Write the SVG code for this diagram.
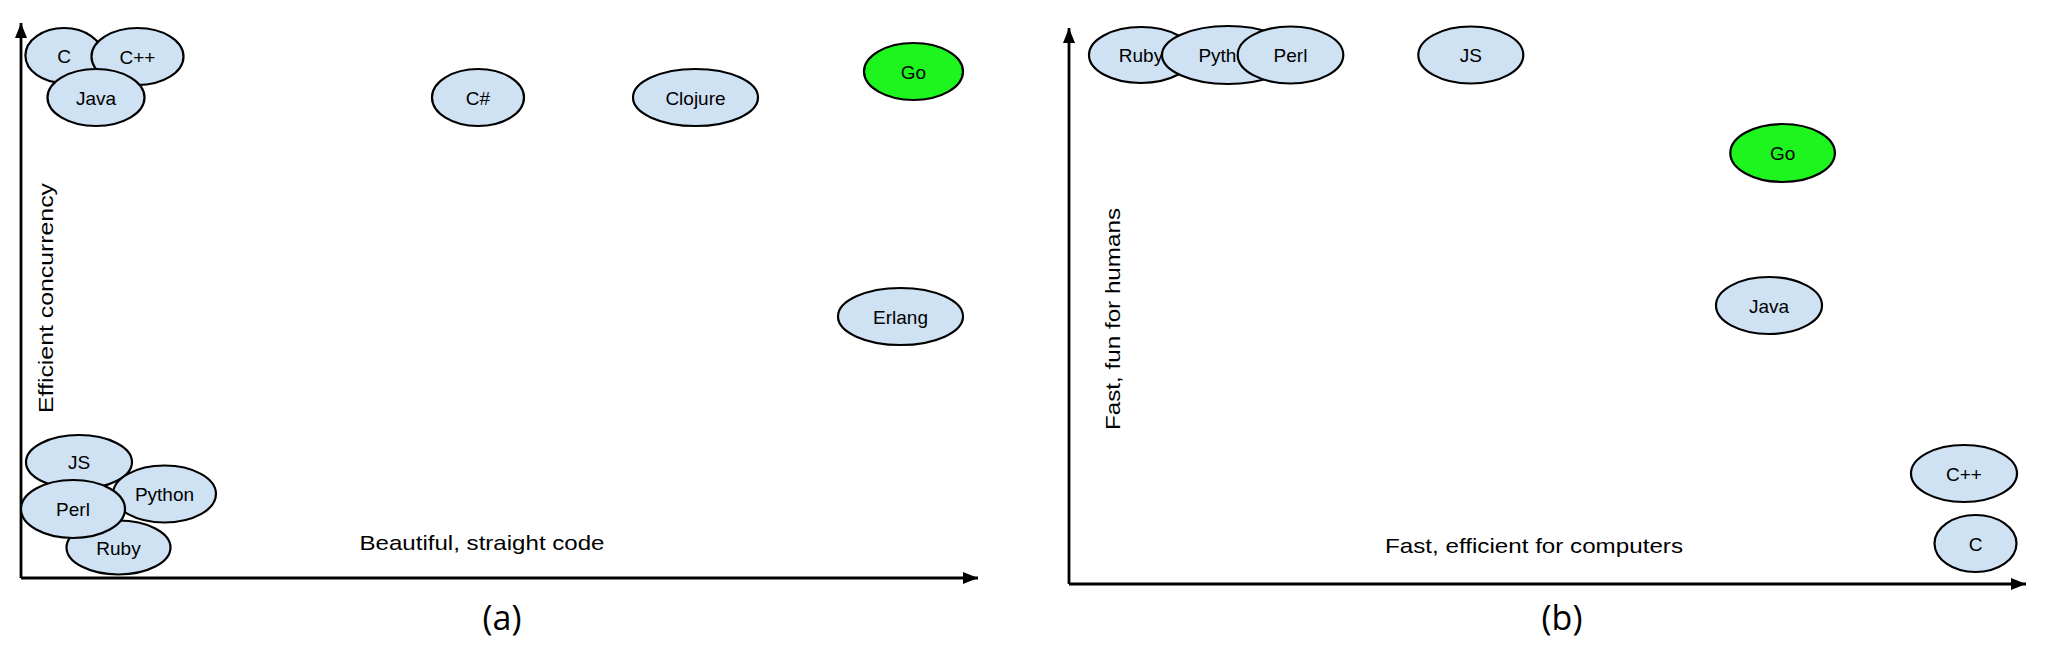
<svg xmlns="http://www.w3.org/2000/svg" width="2056" height="661" viewBox="0 0 2056 661">
<defs>
<style>
.n{fill:#cfe2f3;stroke:#000;stroke-width:2.2}
.g{fill:#1ef41e;stroke:#000;stroke-width:2.2}
.t{font-family:"Liberation Sans",Arial,sans-serif;font-size:19px;fill:#000;text-anchor:middle}
.ax{font-family:"Liberation Sans",Arial,sans-serif;font-size:21px;fill:#000}
.cap{font-family:"Open Sans","DejaVu Sans",sans-serif;font-size:34px;fill:#000;text-anchor:middle}
.axis{fill:none;stroke:#000;stroke-width:2.8}
</style>
<marker id="ah" markerWidth="16" markerHeight="12" refX="15" refY="6" orient="auto" markerUnits="userSpaceOnUse">
<path d="M0,0 L15,6 L0,12 Z" fill="#000"/>
</marker>
</defs>
<rect width="2056" height="661" fill="#fff"/>
<g id="connectors">
<path class="axis" d="M21,578 L21,23" marker-end="url(#ah)"/>
<path class="axis" d="M21,578 L978,578" marker-end="url(#ah)"/>
<path class="axis" d="M1069,584 L1069,28" marker-end="url(#ah)"/>
<path class="axis" d="M1069,584 L2026,584" marker-end="url(#ah)"/>
</g>
<g id="labels">
<text class="ax" x="359.5" y="550" textLength="245" lengthAdjust="spacingAndGlyphs">Beautiful, straight code</text>
<text class="ax" text-anchor="middle" transform="translate(52.5,298) rotate(-90)" textLength="230" lengthAdjust="spacingAndGlyphs">Efficient concurrency</text>
<text class="ax" x="1385" y="553" textLength="298" lengthAdjust="spacingAndGlyphs">Fast, efficient for computers</text>
<text class="ax" text-anchor="middle" transform="translate(1120,319) rotate(-90)" textLength="222" lengthAdjust="spacingAndGlyphs">Fast, fun for humans</text>
<text class="cap" x="502" y="630">(a)</text>
<text class="cap" x="1562" y="630">(b)</text>
</g>
<g id="a-C"><ellipse class="n" cx="64" cy="55.5" rx="38.6" ry="27.5"/><text class="t" x="64" y="62.5">C</text></g>
<g id="a-Cpp"><ellipse class="n" cx="137.5" cy="56.5" rx="46" ry="28.5"/><text class="t" x="137.5" y="63.5">C++</text></g>
<g id="a-Java"><ellipse class="n" cx="96" cy="97.5" rx="48.5" ry="28.5"/><text class="t" x="96" y="104.5">Java</text></g>
<g id="a-Csharp"><ellipse class="n" cx="478" cy="97.5" rx="46" ry="28.5"/><text class="t" x="478" y="104.5">C#</text></g>
<g id="a-Clojure"><ellipse class="n" cx="695.5" cy="97.5" rx="62.5" ry="28.5"/><text class="t" x="695.5" y="104.5">Clojure</text></g>
<g id="a-Go"><ellipse class="g" cx="913.5" cy="71.5" rx="49.5" ry="28.5"/><text class="t" x="913.5" y="78.5">Go</text></g>
<g id="a-Erlang"><ellipse class="n" cx="900.5" cy="316.5" rx="62.5" ry="28.5"/><text class="t" x="900.5" y="323.5">Erlang</text></g>
<g id="a-JS"><ellipse class="n" cx="79" cy="462" rx="53" ry="27"/><text class="t" x="79" y="469">JS</text></g>
<g id="a-Python"><ellipse class="n" cx="164.5" cy="494" rx="51.5" ry="28.5"/><text class="t" x="164.5" y="501">Python</text></g>
<g id="a-Ruby"><ellipse class="n" cx="118.5" cy="547.5" rx="52" ry="27"/><text class="t" x="118.5" y="554.5">Ruby</text></g>
<g id="a-Perl"><ellipse class="n" cx="73" cy="509" rx="52" ry="29"/><text class="t" x="73" y="516">Perl</text></g>
<g id="b-Ruby"><ellipse class="n" cx="1141" cy="55" rx="52" ry="28"/><text class="t" x="1141" y="62">Ruby</text></g>
<g id="b-Python"><ellipse class="n" cx="1228" cy="55" rx="66" ry="29"/><text class="t" x="1228" y="62">Python</text></g>
<g id="b-Perl"><ellipse class="n" cx="1290.5" cy="55" rx="52.8" ry="28.5"/><text class="t" x="1290.5" y="62">Perl</text></g>
<g id="b-JS"><ellipse class="n" cx="1470.8" cy="55" rx="52.5" ry="28.5"/><text class="t" x="1470.8" y="62">JS</text></g>
<g id="b-Go"><ellipse class="g" cx="1782.6" cy="153" rx="52.3" ry="29"/><text class="t" x="1782.6" y="160">Go</text></g>
<g id="b-Java"><ellipse class="n" cx="1769" cy="305.5" rx="53" ry="28.5"/><text class="t" x="1769" y="312.5">Java</text></g>
<g id="b-Cpp"><ellipse class="n" cx="1964" cy="473.5" rx="53" ry="28.5"/><text class="t" x="1964" y="480.5">C++</text></g>
<g id="b-C"><ellipse class="n" cx="1975.5" cy="543.5" rx="41" ry="28.5"/><text class="t" x="1975.5" y="550.5">C</text></g>
</svg>
